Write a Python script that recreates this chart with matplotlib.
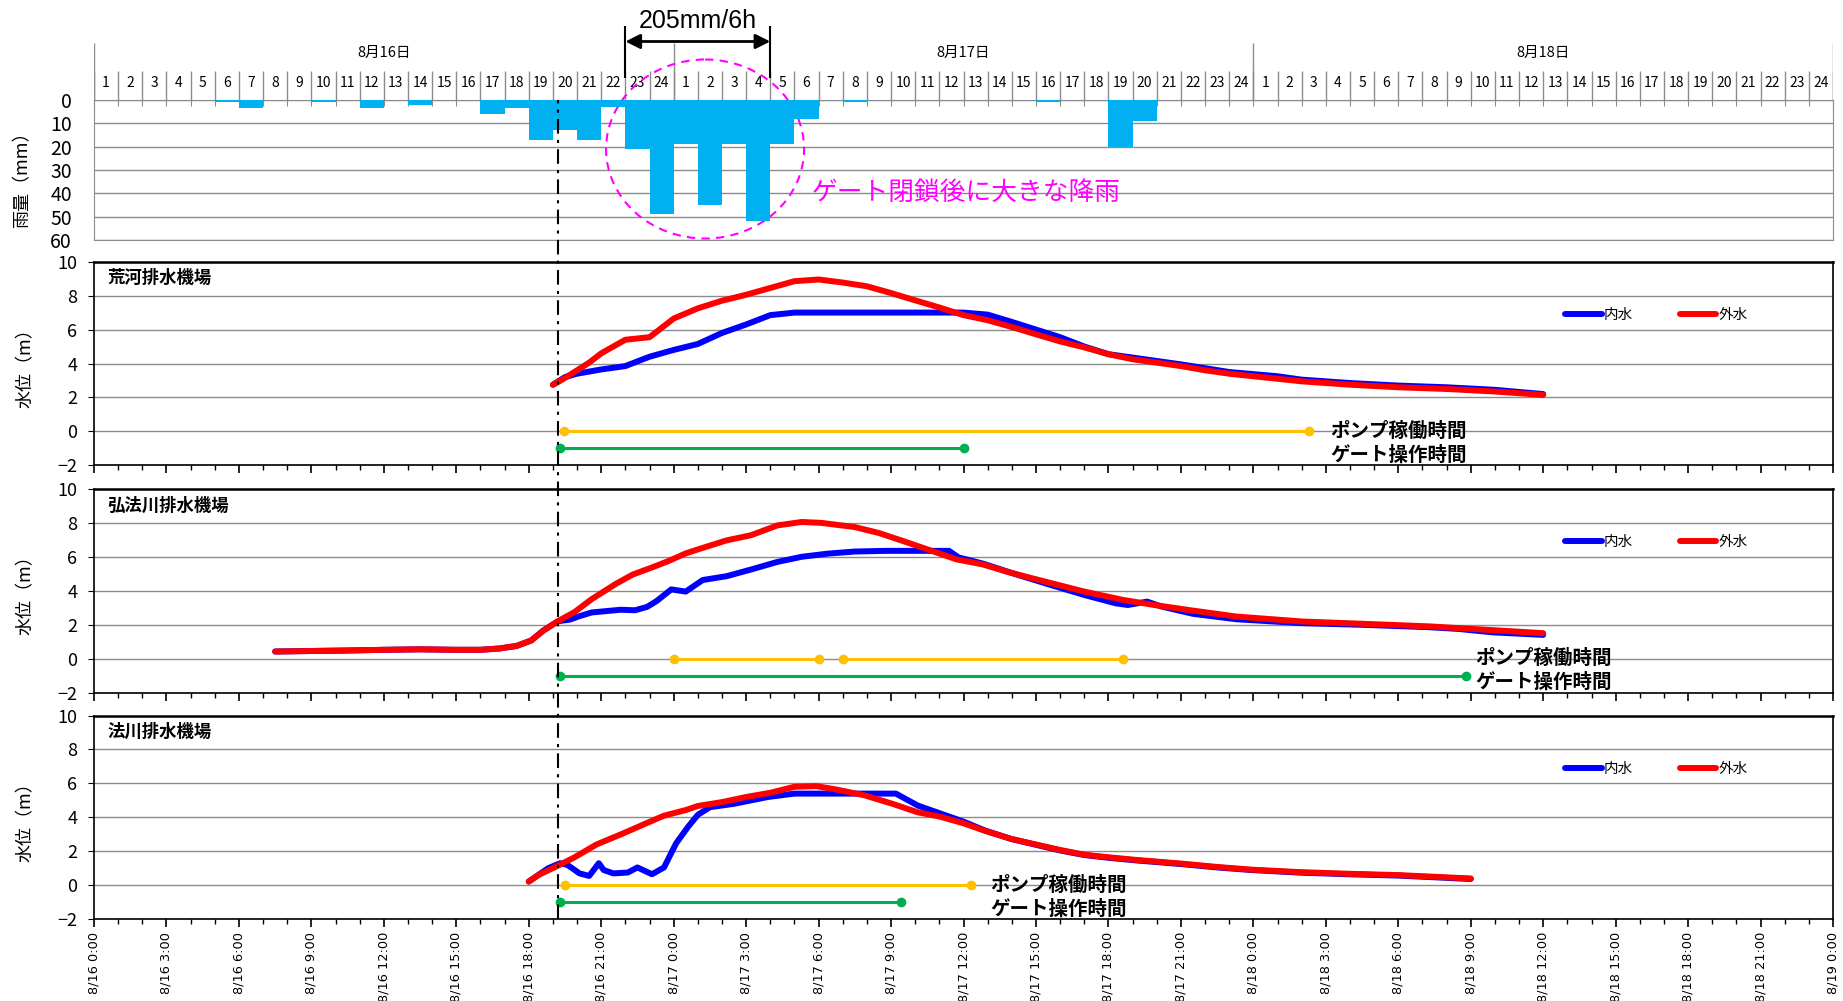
import numpy as np
import matplotlib
matplotlib.use("Agg")
import matplotlib.pyplot as plt
from matplotlib.patches import Ellipse
from matplotlib.lines import Line2D
from matplotlib.ticker import MultipleLocator

plt.rcParams['font.family'] = ['Noto Sans CJK JP', 'DejaVu Sans']

# all times are hours counted from 8/16 0:00
# rainfall: hour cell (hour ending), mm
rain_hour = [6, 7, 10, 12, 14, 17, 18, 19, 20, 21, 22, 23, 24,
             25, 26, 27, 28, 29, 30, 32, 40, 43, 44]
rain_mm = [0.8, 3.5, 0.8, 3.5, 2, 6, 3.5, 17, 13, 17, 3, 21, 49,
           19, 45, 19, 52, 19, 8, 0.8, 0.8, 20, 9]
day_names = ["8月16日", "8月17日", "8月18日"]
gate_close = 19.2

# 荒河排水機場
ara_t_out = [19.0, 19.5, 20.0, 20.5, 21.0, 21.5, 22.0, 23.0, 24.0, 25.0, 26.0, 27.0, 28.0,
             29.0, 30.0, 31.0, 32.0, 33.0, 34.0, 35.0, 36.0, 37.0, 38.0, 39.0, 40.0, 41.0,
             42.0, 43.0, 44.0, 45.0, 46.0, 47.0, 48.0, 49.0, 50.0, 51.0, 52.0, 54.0, 56.0,
             58.0, 60.0]
ara_out = [2.75, 3.15, 3.6, 4.05, 4.6, 5.0, 5.4, 5.55, 6.65, 7.25, 7.7, 8.05, 8.45,
           8.85, 8.95, 8.77, 8.55, 8.15, 7.72, 7.3, 6.85, 6.55, 6.15, 5.72, 5.3, 4.95,
           4.55, 4.25, 4.05, 3.85, 3.6, 3.4, 3.25, 3.1, 2.95, 2.85, 2.75, 2.6, 2.5,
           2.35, 2.15]
ara_t_in = [19.0, 19.5, 20.0, 21.0, 22.0, 23.0, 24.0, 25.0, 26.0, 27.0, 28.0, 29.0, 33.0,
            36.0, 37.0, 38.0, 39.0, 40.0, 41.0, 42.0, 43.0, 45.0, 47.0, 49.0, 50.0, 52.0,
            54.0, 56.0, 58.0, 60.0]
ara_in = [2.75, 3.2, 3.4, 3.65, 3.85, 4.4, 4.8, 5.15, 5.8, 6.3, 6.85, 7.0, 7.0,
          7.0, 6.88, 6.45, 6.0, 5.55, 5.0, 4.55, 4.35, 3.95, 3.5, 3.25, 3.05, 2.85,
          2.7, 2.6, 2.45, 2.2]
ara_pump = [(19.45, 50.3)]
ara_gate = [(19.3, 36.0)]

# 弘法川排水機場
kobo_t_out = [7.5, 9.0, 10.5, 12.0, 13.5, 15.0, 16.0, 16.8, 17.5, 18.1, 18.6, 19.2, 19.9,
              20.6, 21.6, 22.3, 23.1, 23.8, 24.5, 25.1, 26.2, 27.2, 28.3, 29.3, 30.1, 31.5,
              32.5, 33.6, 34.6, 35.7, 36.8, 37.8, 39.4, 41.0, 42.6, 43.9, 45.5, 47.3, 50.0,
              52.6, 55.3, 57.9, 60.0]
kobo_out = [0.42, 0.45, 0.48, 0.52, 0.55, 0.52, 0.52, 0.6, 0.75, 1.07, 1.65, 2.2, 2.75,
            3.5, 4.4, 4.95, 5.37, 5.76, 6.2, 6.48, 6.97, 7.27, 7.85, 8.05, 8.0, 7.75,
            7.4, 6.88, 6.39, 5.85, 5.55, 5.12, 4.53, 3.95, 3.46, 3.16, 2.83, 2.48, 2.19,
            2.05, 1.9, 1.68, 1.5]
kobo_t_in = [7.5, 9.0, 10.5, 12.0, 13.5, 15.0, 16.0, 16.8, 17.5, 18.1, 18.6, 19.2, 19.7,
             20.1, 20.6, 21.2, 21.8, 22.4, 22.9, 23.3, 23.9, 24.5, 25.2, 26.2, 27.2, 28.3,
             29.3, 30.4, 31.5, 32.8, 35.4, 35.8, 36.8, 38.1, 39.4, 41.0, 42.3, 42.8, 43.6,
             44.2, 45.5, 47.3, 50.0, 52.6, 55.3, 56.5, 57.9, 60.0]
kobo_in = [0.42, 0.45, 0.48, 0.52, 0.55, 0.52, 0.52, 0.6, 0.75, 1.07, 1.65, 2.2, 2.3,
           2.5, 2.72, 2.8, 2.88, 2.85, 3.05, 3.4, 4.08, 3.95, 4.63, 4.86, 5.25, 5.7,
           6.0, 6.19, 6.31, 6.35, 6.35, 5.96, 5.6, 5.0, 4.43, 3.75, 3.26, 3.16, 3.36,
           3.07, 2.64, 2.32, 2.09, 1.99, 1.85, 1.75, 1.55, 1.4]
kobo_pump = [(24.0, 30.0), (31.0, 42.6)]
kobo_gate = [(19.3, 56.8)]

# 法川排水機場
hou_t_out = [18.0, 18.4, 19.2, 19.9, 20.8, 21.9, 22.7, 23.6, 24.5, 25.0, 26.0, 27.0, 28.0,
             29.0, 29.9, 30.7, 31.9, 33.1, 34.1, 35.0, 36.0, 36.9, 38.0, 39.1, 40.0, 41.0,
             42.0, 43.1, 45.0, 46.5, 47.9, 50.0, 51.9, 54.0, 57.0]
hou_out = [0.22, 0.6, 1.15, 1.65, 2.4, 3.05, 3.55, 4.1, 4.43, 4.67, 4.9, 5.2, 5.45,
           5.8, 5.84, 5.65, 5.3, 4.78, 4.3, 4.05, 3.65, 3.2, 2.72, 2.37, 2.08, 1.8,
           1.65, 1.5, 1.28, 1.08, 0.92, 0.77, 0.68, 0.6, 0.4]
hou_t_in = [18.0, 18.8, 19.3, 19.6, 20.1, 20.5, 20.9, 21.1, 21.5, 22.1, 22.5, 23.1, 23.6,
            24.1, 24.6, 25.0, 25.5, 26.5, 27.9, 29.0, 33.2, 34.1, 35.0, 36.0, 36.9, 38.0,
            39.1, 40.0, 41.0, 42.0, 43.1, 45.0, 46.5, 47.9, 50.0, 51.9, 54.0, 57.0]
hou_in = [0.22, 1.0, 1.3, 1.2, 0.7, 0.55, 1.3, 0.9, 0.7, 0.75, 1.05, 0.65, 1.05,
          2.47, 3.45, 4.15, 4.6, 4.8, 5.2, 5.4, 5.4, 4.7, 4.25, 3.75, 3.22, 2.72,
          2.35, 2.05, 1.78, 1.62, 1.47, 1.25, 1.05, 0.9, 0.74, 0.65, 0.57, 0.37]
hou_pump = [(19.5, 36.3)]
hou_gate = [(19.3, 33.4)]

stations = [
    ("荒河排水機場", ara_t_in, ara_in, ara_t_out, ara_out, ara_pump, ara_gate, 51.2),
    ("弘法川排水機場", kobo_t_in, kobo_in, kobo_t_out, kobo_out, kobo_pump, kobo_gate, 57.2),
    ("法川排水機場", hou_t_in, hou_in, hou_t_out, hou_out, hou_pump, hou_gate, 37.1),
]

xtick_labels = ["8/16 0:00", "8/16 3:00", "8/16 6:00", "8/16 9:00", "8/16 12:00",
                "8/16 15:00", "8/16 18:00", "8/16 21:00", "8/17 0:00", "8/17 3:00",
                "8/17 6:00", "8/17 9:00", "8/17 12:00", "8/17 15:00", "8/17 18:00",
                "8/17 21:00", "8/18 0:00", "8/18 3:00", "8/18 6:00", "8/18 9:00",
                "8/18 12:00", "8/18 15:00", "8/18 18:00", "8/18 21:00", "8/19 0:00"]

GRID = '#8c8c8c'
left, width = 0.051, 0.9436

fig = plt.figure(figsize=(18.43, 10.01), dpi=100)

# ---- header with day / hour cells
ax_h = fig.add_axes([left, 0.9001, width, 0.0573])
ax_h.set_xlim(0, 72)
ax_h.set_ylim(0, 1)
ax_h.axis('off')
ax_h.vlines(np.arange(0, 73), 0, 0.5, color=GRID, lw=1)
ax_h.vlines([0, 24, 48, 72], 0, 1, color=GRID, lw=1)
for d, name in enumerate(day_names):
    ax_h.text(24 * d + 12, 0.82, name, ha='center', va='center', fontsize=10.5)
    for h in range(1, 25):
        ax_h.text(24 * d + h - 0.5, 0.3, str(h), ha='center', va='center', fontsize=10)

# 205mm/6h marker
ax_h.vlines([22, 28], 0.38, 1.29, color='k', lw=1.5, clip_on=False)
ax_h.annotate('', xy=(22, 1.02), xytext=(28, 1.02), annotation_clip=False,
              arrowprops=dict(arrowstyle='<|-|>', color='k', lw=2, mutation_scale=22,
                              shrinkA=0, shrinkB=0))
ax_h.text(25, 1.37, "205mm/6h", ha='center', va='center', fontsize=18,
          family='Liberation Sans', clip_on=False)

# ---- rainfall
ax_r = fig.add_axes([left, 0.7602, width, 0.1399])
ax_r.bar(np.array(rain_hour) - 0.5, rain_mm, width=1.0, color='#00B0F0', linewidth=0,
         zorder=3)
ax_r.set_xlim(0, 72)
ax_r.set_ylim(60, 0)
ax_r.set_yticks(np.arange(0, 61, 10))
ax_r.yaxis.grid(True, color=GRID, lw=1)
ax_r.set_axisbelow(True)
for s in ax_r.spines.values():
    s.set_color(GRID)
ax_r.set_xticks(np.arange(0, 73))
ax_r.tick_params(axis='x', top=True, bottom=False, direction='in', length=4, color=GRID,
                 labeltop=False, labelbottom=False)
ax_r.tick_params(axis='y', length=0, labelsize=14, pad=16)
ax_r.set_ylabel("雨量（mm）", fontsize=13)
ax_r.yaxis.set_label_coords(-0.036, 0.46)
ax_r.add_patch(Ellipse((25.3, 21), 8.2, 76.7, fill=False, ec='#FF00FF', lw=1.5,
                       ls=(0, (4, 3)), clip_on=False))
ax_r.text(29.7, 40.3, "ゲート閉鎖後に大きな降雨", color='#FF00FF', fontsize=18.5,
          ha='left', va='center', clip_on=False)

# ---- water level panels
bottoms = [0.5351, 0.3081, 0.0817]
height = 0.2035
axes = []
for i, (name, t_in, v_in, t_out, v_out, pump, gate, lab_x) in enumerate(stations):
    ax = fig.add_axes([left, bottoms[i], width, height])
    axes.append(ax)
    ax.plot(t_in, v_in, color='#0000FF', lw=4.3, solid_capstyle='round',
            solid_joinstyle='round', label='内水', zorder=3)
    ax.plot(t_out, v_out, color='#FF0000', lw=4.3, solid_capstyle='round',
            solid_joinstyle='round', label='外水', zorder=4)
    for s, e in pump:
        ax.plot([s, e], [0, 0], color='#FFC000', lw=2.2, marker='o', ms=6, zorder=5)
    for s, e in gate:
        ax.plot([s, e], [-1, -1], color='#00B050', lw=2.2, marker='o', ms=6, zorder=5)
    ax.text(lab_x, 0, "ポンプ稼働時間", fontsize=14, fontweight='bold', ha='left', va='center')
    ax.text(lab_x, -1.4, "ゲート操作時間", fontsize=14, fontweight='bold', ha='left', va='center')
    ax.text(0.0078, 0.919, name, transform=ax.transAxes, fontsize=12.5, fontweight='bold',
            va='center', ha='left')
    ax.legend(loc='center left', bbox_to_anchor=(0.846, 0.738), ncol=2, frameon=False,
              fontsize=10.5, handlelength=2.5, handletextpad=0.15, columnspacing=3.2,
              borderpad=0, borderaxespad=0)
    ax.set_xlim(0, 72)
    ax.set_ylim(-2, 10)
    ax.set_yticks(np.arange(-2, 11, 2))
    ax.yaxis.grid(True, color=GRID, lw=1)
    ax.set_axisbelow(True)
    for s in ax.spines.values():
        s.set_color('k')
        s.set_linewidth(1.2)
    ax.spines['top'].set_linewidth(1.8)
    ax.set_xticks(np.arange(0, 73, 3))
    ax.xaxis.set_minor_locator(MultipleLocator(1))
    ax.tick_params(axis='x', which='major', length=6, width=1.2, direction='out', pad=3)
    ax.tick_params(axis='x', which='minor', length=3.5, width=1, direction='out')
    ax.tick_params(axis='y', length=4, labelsize=13, pad=8)
    ax.set_ylabel("水位（m）", fontsize=13)
    ax.yaxis.set_label_coords(-0.034, 0.5)
    if i < 2:
        ax.tick_params(axis='x', labelbottom=False)
    else:
        ax.set_xticklabels(xtick_labels, rotation=90, fontsize=9.3, family='DejaVu Sans')

# gate closing line across all panels
inv = fig.transFigure.inverted()
xg = inv.transform(axes[0].transData.transform((gate_close, 0)))[0]
fig.add_artist(Line2D([xg, xg], [bottoms[2], 0.9001], transform=fig.transFigure,
                      color='k', lw=1.5, ls=(0, (7, 3, 1.5, 3)), zorder=10))

fig.savefig("out.png", dpi=100)
